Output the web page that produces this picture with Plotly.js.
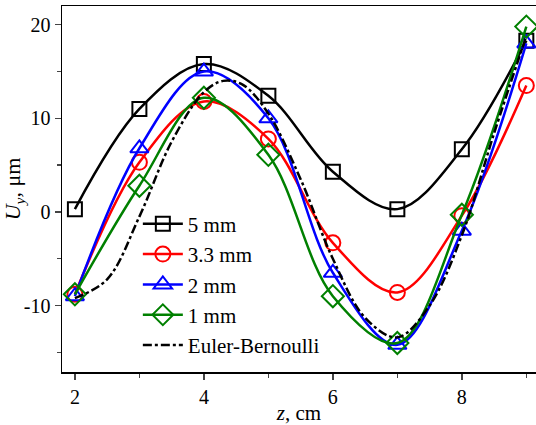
<!DOCTYPE html>
<html><head><meta charset="utf-8">
<script src="https://cdn.plot.ly/plotly-3.0.1.min.js"></script>
<style>html,body{margin:0;padding:0;background:#fff}#chart{width:536px;height:425px}
#chart svg text{font-family:"Liberation Serif","Times New Roman",serif !important;}</style>
</head><body><div id="chart"></div>
<script>
const zPts = [2, 3, 4, 5, 6, 7, 8, 9];
const u5mm = [0.3, 11.0, 15.8, 12.4, 4.3, 0.3, 6.7, 18.3];
const u33mm = [-8.8, 5.3, 11.8, 7.8, -3.3, -8.6, -0.4, 13.5];
const u2mm = [-9.0, 6.8, 15.0, 10.0, -6.5, -14.2, -2.0, 18.0];
const u1mm = [-8.8, 2.8, 12.2, 6.1, -9.0, -14.0, -0.3, 19.8];
const zEB = [2, 2.5, 3, 3.5, 4, 4.3, 4.6, 5, 5.5, 6, 6.5, 7, 7.5, 8, 8.5, 9];
const uEB = [-9.2, -7.2, -0.5, 7.5, 12.8, 14.0, 13.6, 10.5, 3.5, -5.0, -11.3, -13.4, -10.0, -2.5, 8.4, 18.8];
const names = ['5 mm', '3.3 mm', '2 mm', '1 mm', 'Euler-Bernoulli'];
const xTicks = [2, 4, 6, 8];
const yTicks = [-10, 0, 10, 20];
const yTickText = ['-10', '0', '10', '20'];

function mk(y, name, color, symbol, size) {
  return {x: zPts, y: y, name: name, type: 'scatter', mode: 'lines+markers',
    line: {color: color, width: 2.5, shape: 'spline', smoothing: 1},
    marker: {symbol: symbol, size: size, color: color, line: {color: color, width: 2}}};
}
const traces = [
  mk(u5mm, names[0], '#000000', 'square-open', 14),
  mk(u33mm, names[1], '#ff0000', 'circle-open', 15),
  mk(u2mm, names[2], '#0000ff', 'triangle-up-open', 16),
  mk(u1mm, names[3], '#008000', 'diamond-open', 17),
  {x: zEB, y: uEB, name: names[4], type: 'scatter', mode: 'lines',
   line: {color: '#000000', width: 2.5, dash: 'dashdot', shape: 'spline', smoothing: 1}}
];
const fam = 'Liberation Serif';
const font = {family: fam, size: 20, color: '#000'};
const layout = {
  width: 536, height: 425,
  margin: {l: 62, r: 0, t: 6, b: 53},
  paper_bgcolor: '#fff', plot_bgcolor: '#fff',
  font: font,
  showlegend: true,
  legend: {x: 0.16, y: 0.46, xanchor: 'left', yanchor: 'top', bgcolor: 'rgba(0,0,0,0)',
           font: {family: fam, size: 21, color: '#000'}, itemwidth: 40, tracegroupgap: 0},
  xaxis: {range: [1.8, 9.15], tickvals: xTicks, ticks: 'outside', ticklen: 6, tickwidth: 1.5,
          showgrid: false, zeroline: false, showline: true, linewidth: 1.5, linecolor: '#000', mirror: true,
          minor: {tickvals: [3, 5, 7, 9], ticks: 'outside', ticklen: 4, tickwidth: 1.5},
          tickfont: font,
          title: {text: '<i>z</i>, cm', font: {family: fam, size: 21, color: '#000'}, standoff: 2}},
  yaxis: {range: [-17.1, 22.0], tickvals: yTicks, ticktext: yTickText, ticks: 'outside', ticklen: 6, tickwidth: 1.5,
          showgrid: false, zeroline: false, showline: true, linewidth: 1.5, linecolor: '#000',
          minor: {tickvals: [-15, -5, 5, 15], ticks: 'outside', ticklen: 4, tickwidth: 1.5},
          tickfont: font,
          title: {text: '<i>U<sub>y</sub></i>, μm', font: {family: fam, size: 22, color: '#000'}, standoff: 4}}
};
Plotly.newPlot('chart', traces, layout, {displayModeBar: false, staticPlot: true});
</script></body></html>
